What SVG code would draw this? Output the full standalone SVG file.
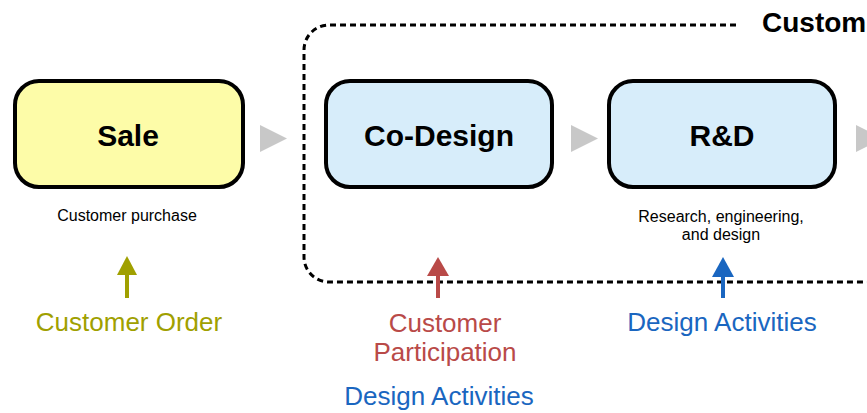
<svg xmlns="http://www.w3.org/2000/svg" width="867" height="413" viewBox="0 0 867 413">
<style>
.box{stroke:#000;stroke-width:4}
.title{font-family:"Liberation Sans",Arial,sans-serif;font-weight:bold;font-size:30px;fill:#000;text-anchor:middle}
.sub{font-family:"Liberation Sans",Arial,sans-serif;font-size:16px;fill:#000;text-anchor:middle}
.lbl{font-family:"Liberation Sans",Arial,sans-serif;font-size:26px;text-anchor:middle}
.tri{fill:#c8c8c8}
</style>
<rect width="867" height="413" fill="#fff"/>
<g id="container">
<path d="M736,25 H329 A25,25 0 0 0 304,50 V257 A25,25 0 0 0 329,282 H867" fill="none" stroke="#000" stroke-width="3" stroke-dasharray="6 4"/>
<text x="762" y="32" font-family="Liberation Sans,Arial,sans-serif" font-weight="bold" font-size="28">Custom</text>
</g>
<g id="sale">
<rect class="box" x="15" y="81" width="228" height="106" rx="24" fill="#fdfca8"/>
<text class="title" x="128" y="146">Sale</text>
<text class="sub" x="127" y="221">Customer purchase</text>
</g>
<g id="codesign">
<rect class="box" x="326" y="81" width="226" height="106" rx="24" fill="#d7edfa"/>
<text class="title" x="439" y="146">Co-Design</text>
</g>
<g id="rnd">
<rect class="box" x="609" y="81" width="226" height="106" rx="24" fill="#d7edfa"/>
<text class="title" x="722" y="146">R&amp;D</text>
<text class="sub" x="721" y="222">Research, engineering,</text>
<text class="sub" x="721" y="240">and design</text>
</g>
<g id="connectors">
<polygon class="tri" points="260,125 287,138.5 260,152"/>
<polygon class="tri" points="571,125 598,138.5 571,152"/>
<polygon class="tri" points="856,125 883,138.5 856,152"/>
<g fill="#a0a000" stroke="#a0a000">
<line x1="127" y1="298" x2="127" y2="272" stroke-width="4"/>
<polygon points="127,256 137,275 117,275" stroke="none"/>
</g>
<g fill="#b94a48" stroke="#b94a48">
<line x1="438" y1="298" x2="438" y2="272" stroke-width="4"/>
<polygon points="438,257 449,276 427,276" stroke="none"/>
</g>
<g fill="#1a66c0" stroke="#1a66c0">
<line x1="723" y1="298" x2="723" y2="272" stroke-width="4"/>
<polygon points="723,257 734,277 712,277" stroke="none"/>
</g>
</g>
<g id="labels">
<text class="lbl" x="129" y="331" fill="#a0a000">Customer Order</text>
<text class="lbl" x="445" y="332" fill="#b94a48">Customer</text>
<text class="lbl" x="445" y="361" fill="#b94a48">Participation</text>
<text class="lbl" x="439" y="405" fill="#1a66c0">Design Activities</text>
<text class="lbl" x="722" y="331" fill="#1a66c0">Design Activities</text>
</g>
</svg>
